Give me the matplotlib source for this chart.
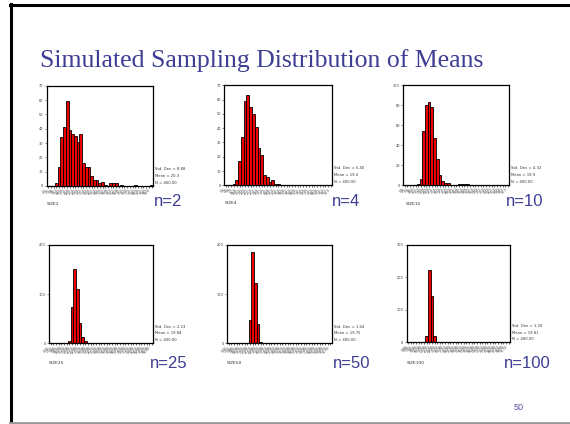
import matplotlib
matplotlib.use("Agg")
import matplotlib.pyplot as plt
from matplotlib.lines import Line2D

W, H = 570, 424

# bin labels (unreadable in the picture, estimated)
bin_labels = ["0.0", "2.5", "5.0", "7.5", "10.0", "12.5", "15.0", "17.5", "20.0", "22.5",
              "25.0", "27.5", "30.0", "32.5", "35.0", "37.5", "40.0", "42.5", "45.0", "47.5",
              "50.0", "52.5", "55.0", "57.5", "60.0", "62.5", "65.0", "67.5", "70.0", "72.5",
              "75.0", "77.5", "80.0", "82.5", "85.0", "87.5", "90.0", "92.5", "95.0"]
bin_labels_2 = ["0.00", "2.50", "5.00", "7.50", "10.00", "12.50", "15.00", "17.50", "20.00", "22.50",
                "25.00", "27.50", "30.00", "32.50", "35.00", "37.50", "40.00", "42.50", "45.00", "47.50",
                "50.00", "52.50", "55.00", "57.50", "60.00", "62.50", "65.00", "67.50", "70.00", "72.50",
                "75.00", "77.50", "80.00", "82.50", "85.00", "87.50", "90.00", "92.50", "95.00"]

# counts per bin (bin index -> count)
size2_bins = [3, 4, 5, 6, 7, 8, 9, 10, 11, 12, 13, 14, 15, 16, 17, 18, 19, 20, 21, 23, 24, 25, 27, 32, 38]
size2_counts = [2, 13, 34, 41, 59, 39, 36, 35, 31, 36, 16, 13, 13, 7, 4, 4, 2, 3, 1, 2, 2, 2, 1, 1, 1]
size4_bins = [3, 4, 5, 6, 7, 8, 9, 10, 11, 12, 13, 14, 15, 16, 17, 18, 19]
size4_counts = [1, 4, 17, 34, 59, 63, 55, 50, 41, 26, 21, 7, 6, 2, 4, 1, 1]
size10_bins = [5, 6, 7, 8, 9, 10, 11, 12, 13, 14, 15, 16, 20, 21, 22, 23]
size10_counts = [1, 6, 54, 80, 83, 78, 47, 26, 10, 4, 2, 2, 1, 1, 1, 1]
size25_bins = [7, 8, 9, 10, 11, 12, 13]
size25_counts = [4, 73, 152, 110, 42, 12, 5]
size50_bins = [7, 8, 9, 10, 11, 12]
size50_counts = [1, 48, 186, 122, 40, 2]
size100_bins = [7, 8, 9, 10]
size100_counts = [18, 222, 142, 18]

names = ["SIZE2", "SIZE4", "SIZE10", "SIZE25", "SIZE50", "SIZE100"]
n_labels = ["n=2", "n=4", "n=10", "n=25", "n=50", "n=100"]
std_devs = ["8.88", "5.40", "4.32", "2.23", "1.64", "1.20"]
means = ["20.3", "19.4", "19.9", "19.84", "19.75", "19.81"]
y_max = [70, 70, 100, 200, 200, 300]
y_step = [10, 10, 20, 100, 100, 100]

all_bins = [size2_bins, size4_bins, size10_bins, size25_bins, size50_bins, size100_bins]
all_counts = [size2_counts, size4_counts, size10_counts, size25_counts, size50_counts, size100_counts]

# axes boxes in pixels: left, right, top, bottom
boxes = [(46.7, 153, 85.7, 186), (224.3, 332.3, 85.3, 185.3), (403.3, 509.3, 85.3, 185),
         (49.3, 153.3, 245, 343.3), (227.3, 331.7, 245, 343.3), (406.7, 510, 245, 342.3)]
n_pos = [(168, 202), (346, 202), (525, 202), (169, 363), (352, 363), (527, 363)]
size_pos = [(47, 204), (225, 203), (406, 204), (49, 363), (227, 363), (407, 363)]

fig = plt.figure(figsize=(W / 100, H / 100), dpi=100)

# slide frame
fig.add_artist(Line2D([10 / W, 1], [1 - 5 / H, 1 - 5 / H], color="black", lw=2.2))
fig.add_artist(Line2D([11 / W, 11 / W], [1 - 4 / H, 1 - 423 / H], color="black", lw=2.2))
fig.add_artist(Line2D([10 / W, 1], [1 - 423 / H, 1 - 423 / H], color="#999999", lw=2))

fig.text(40 / W, 1 - 61 / H, "Simulated Sampling Distribution of Means",
         family="Liberation Serif", fontsize=18.5, color="#3e3e94", va="center", ha="left")
fig.text(519 / W, 1 - 408 / H, "50", fontsize=6.5, color="#5050a0", ha="center", va="center",
         family="Liberation Sans")

for i in range(6):
    l, r, t, b = boxes[i]
    ax = fig.add_axes([l / W, 1 - b / H, (r - l) / W, (b - t) / H])
    ax.bar(all_bins[i], all_counts[i], width=1.0, color="#ee0000", edgecolor="black", linewidth=0.6)
    ax.set_xlim(-0.5, 38.5)
    ax.set_ylim(0, y_max[i])
    ax.set_yticks(range(0, y_max[i] + 1, y_step[i]))
    ax.tick_params(axis="y", labelsize=2.5, length=1.5, width=0.4, pad=1, colors="#333333")
    ax.set_xticks(range(39))
    labels = bin_labels if i < 3 else bin_labels_2
    ax.set_xticklabels(labels, rotation=45, ha="right", fontsize=2.2, color="#444444")
    ax.tick_params(axis="x", length=1.2, width=0.4, pad=0.5)
    for s in ax.spines.values():
        s.set_linewidth(0.9)
    ax.text(1.02, 0.17, "Std. Dev = " + std_devs[i], transform=ax.transAxes, fontsize=2.7,
            va="center", ha="left", color="#333333")
    ax.text(1.02, 0.10, "Mean = " + means[i], transform=ax.transAxes, fontsize=2.7,
            va="center", ha="left", color="#333333")
    ax.text(1.02, 0.03, "N = 400.00", transform=ax.transAxes, fontsize=2.7,
            va="center", ha="left", color="#333333")
    fig.text(size_pos[i][0] / W, 1 - size_pos[i][1] / H, names[i], fontsize=3.2,
             color="#333333", ha="left", va="center")
    fig.text(n_pos[i][0] / W, 1 - n_pos[i][1] / H, n_labels[i], fontsize=12,
             color="#3e3e94", ha="center", va="center", family="Liberation Sans")

fig.savefig("out.png", dpi=100)
